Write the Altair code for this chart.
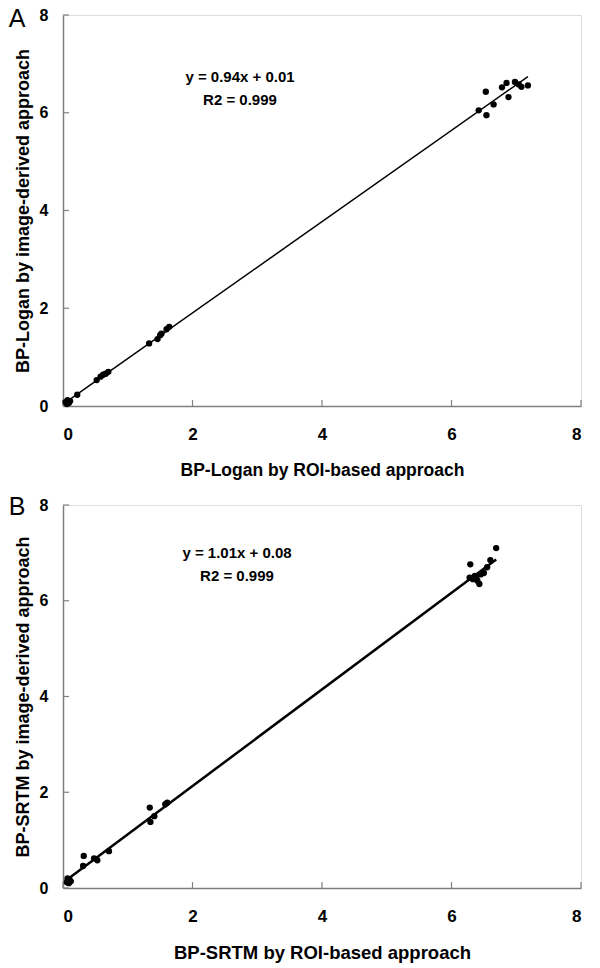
import altair as alt
import pandas as pd

# ---- Panel A data (BP-Logan) ----
a_x = [0.04, 0.07, 0.09, 0.11, 0.06, 0.22, 0.52, 0.58, 0.62, 0.66, 0.70,
       1.33, 1.46, 1.50, 1.52, 1.60, 1.64,
       6.42, 6.53, 6.54, 6.65, 6.78, 6.85, 6.88, 6.98, 7.04, 7.08, 7.18]
a_y = [0.08, 0.12, 0.06, 0.10, 0.04, 0.23, 0.53, 0.60, 0.64, 0.66, 0.70,
       1.28, 1.37, 1.45, 1.48, 1.57, 1.62,
       6.05, 6.43, 5.95, 6.17, 6.52, 6.61, 6.32, 6.63, 6.58, 6.53, 6.56]

# ---- Panel B data (BP-SRTM) ----
b_x = [0.06, 0.08, 0.10, 0.09, 0.12, 0.07,
       0.31, 0.32, 0.48, 0.53, 0.71,
       1.34, 1.35, 1.41, 1.58, 1.61,
       6.29, 6.28, 6.33, 6.36, 6.40, 6.43, 6.45, 6.50, 6.55, 6.60, 6.69, 6.38]
b_y = [0.12, 0.15, 0.18, 0.10, 0.14, 0.20,
       0.46, 0.67, 0.62, 0.58, 0.77,
       1.68, 1.38, 1.50, 1.75, 1.78,
       6.76, 6.48, 6.45, 6.52, 6.42, 6.35, 6.55, 6.58, 6.70, 6.85, 7.10, 6.48]

tick_values = [0, 2, 4, 6, 8]

FONT = "Liberation Sans"
W = 518


def xenc(field, title, lfs, tfs):
    return alt.X(field, type="quantitative",
                 scale=alt.Scale(domain=[0, 8], nice=False, zero=True),
                 axis=alt.Axis(values=tick_values, title=title, grid=False,
                               tickSize=0, labelPadding=20, titlePadding=19,
                               domainColor="#808080", domainWidth=1.5,
                               labelFont=FONT, labelFontSize=lfs, labelFontWeight="bold",
                               labelColor="black", titleFont=FONT, titleFontSize=tfs,
                               titleFontWeight="bold", titleColor="black"))


def yenc(field, title):
    return alt.Y(field, type="quantitative",
                 scale=alt.Scale(domain=[0, 8], nice=False, zero=True),
                 axis=alt.Axis(values=tick_values, title=title, grid=False,
                               tickSize=0, labelPadding=15, titlePadding=7,
                               domainColor="#808080", domainWidth=1.5,
                               labelFont=FONT, labelFontSize=16, labelFontWeight="bold",
                               labelColor="black", titleFont=FONT, titleFontSize=18,
                               titleFontWeight="bold", titleColor="black"))


def panel(xs, ys, H, xtitle, ytitle, letter, letter_y, eq, r2, ann_x, ann_y, lw, lfs, tfs):
    df = pd.DataFrame({"x": xs, "y": ys})
    tdf = pd.DataFrame({"t": tick_values})
    base = alt.Chart(df)
    X = lambda f: xenc(f, xtitle, lfs, tfs)
    Y = lambda f: yenc(f, ytitle)
    pts = base.mark_circle(size=40, color="black", opacity=1).encode(x=X("x"), y=Y("y"))
    line = base.transform_regression("x", "y").mark_line(
        color="black", strokeWidth=lw).encode(x=X("x"), y=Y("y"))
    xt = alt.Chart(tdf).mark_rule(color="#808080", strokeWidth=1.2).encode(
        x=X("t"), y=alt.value(H), y2=alt.value(H - 6))
    yt = alt.Chart(tdf).mark_rule(color="#808080", strokeWidth=1.2).encode(
        y=Y("t"), x=alt.value(0), x2=alt.value(6))
    one = pd.DataFrame({"a": [0]})
    lab = alt.Chart(one).mark_text(font=FONT, fontSize=25, color="black",
                                   align="center", baseline="alphabetic").encode(
        x=alt.value(-46), y=alt.value(letter_y), text=alt.value(letter))
    t1 = alt.Chart(one).mark_text(font=FONT, fontSize=15, fontWeight="bold", color="black",
                                  align="center", baseline="middle").encode(
        x=alt.value(ann_x), y=alt.value(ann_y), text=alt.value(eq))
    t2 = alt.Chart(one).mark_text(font=FONT, fontSize=15, fontWeight="bold", color="black",
                                  align="center", baseline="middle").encode(
        x=alt.value(ann_x), y=alt.value(ann_y + 23), text=alt.value(r2))
    return alt.layer(xt, yt, line, pts, lab, t1, t2).properties(width=W, height=H)


pa = panel(a_x, a_y, 391, "BP-Logan by ROI-based approach",
           "BP-Logan by image-derived approach", "A", 12,
           "y = 0.94x + 0.01", "R2 = 0.999", 177, 62, 1.5, 17, 17.5)
pb = panel(b_x, b_y, 383, "BP-SRTM by ROI-based approach",
           "BP-SRTM by image-derived approach", "B", 10,
           "y = 1.01x + 0.08", "R2 = 0.999", 174, 48, 2.5, 17, 18.5)

chart = alt.vconcat(pa, pb, spacing=15).properties(
    padding={"top": -2, "left": 0, "right": 5, "bottom": 5}
).configure_view(stroke=None).configure(background="white")

chart.save("out.html", embed_options={"renderer": "svg", "actions": False})
